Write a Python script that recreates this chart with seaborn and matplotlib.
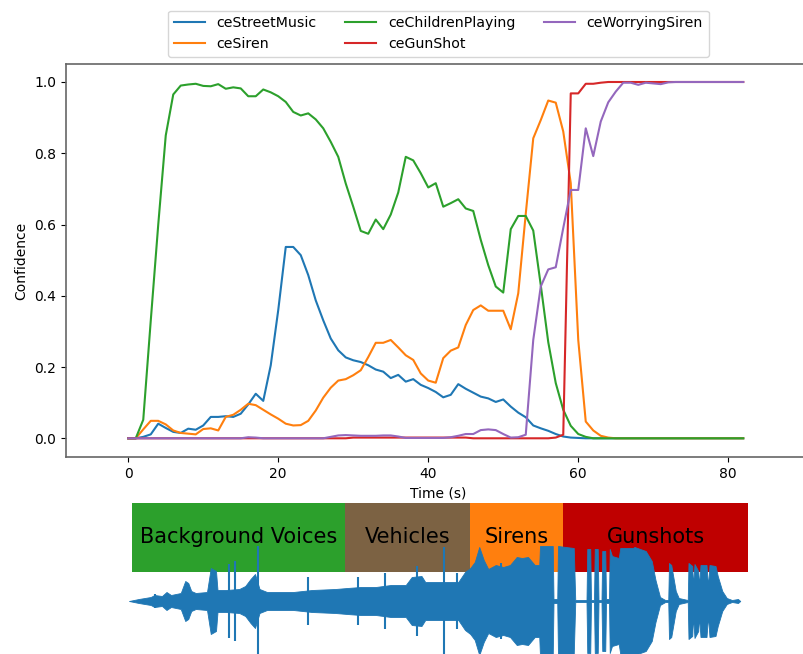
import numpy as np
import pandas as pd
import matplotlib
matplotlib.use('Agg')
import matplotlib.pyplot as plt
import seaborn as sns

# confidence per class, one value per second (0..82 s)
time_s = list(range(83))

street_music = [0, 0, 0.004, 0.011, 0.041, 0.029, 0.018, 0.015, 0.027, 0.024,
                0.036, 0.06, 0.06, 0.062, 0.06, 0.069, 0.095, 0.125, 0.105, 0.205,
                0.36, 0.537, 0.537, 0.514, 0.458, 0.387, 0.331, 0.28, 0.247, 0.227,
                0.219, 0.214, 0.205, 0.193, 0.187, 0.169, 0.178, 0.159, 0.166, 0.15,
                0.141, 0.13, 0.115, 0.122, 0.152, 0.139, 0.128, 0.117, 0.112, 0.102,
                0.109, 0.089, 0.072, 0.059, 0.036, 0.028, 0.021, 0.012, 0.005, 0.002,
                0.001] + [0] * 22

siren = [0, 0, 0.025, 0.049, 0.049, 0.039, 0.022, 0.015, 0.013, 0.011,
         0.026, 0.028, 0.022, 0.06, 0.066, 0.08, 0.097, 0.093, 0.08, 0.067,
         0.055, 0.041, 0.036, 0.037, 0.049, 0.078, 0.114, 0.142, 0.162, 0.166,
         0.177, 0.191, 0.228, 0.268, 0.268, 0.276, 0.255, 0.233, 0.22, 0.182,
         0.162, 0.156, 0.225, 0.246, 0.255, 0.318, 0.36, 0.373, 0.358, 0.358,
         0.358, 0.306, 0.407, 0.63, 0.842, 0.893, 0.948, 0.942, 0.861, 0.716,
         0.276, 0.047, 0.022, 0.007, 0.002] + [0] * 18

children_playing = [0, 0, 0.052, 0.33, 0.6, 0.85, 0.965, 0.99, 0.993, 0.995,
                    0.989, 0.988, 0.994, 0.981, 0.985, 0.982, 0.96, 0.96, 0.979, 0.971,
                    0.96, 0.944, 0.916, 0.906, 0.912, 0.895, 0.87, 0.832, 0.79, 0.715,
                    0.65, 0.582, 0.574, 0.614, 0.587, 0.628, 0.69, 0.79, 0.78, 0.744,
                    0.704, 0.716, 0.65, 0.66, 0.671, 0.645, 0.638, 0.557, 0.486, 0.426,
                    0.409, 0.587, 0.624, 0.624, 0.583, 0.43, 0.27, 0.155, 0.08, 0.035,
                    0.012, 0.004] + [0] * 21

gun_shot = [0] * 30 + [0.002] * 16 + [0] * 11 + [0.002, 0.01, 0.968, 0.968, 0.995,
                                                  0.995, 0.998] + [1.0] * 19

worrying_siren = [0] * 16 + [0.003, 0.002] + [0] * 9 + [0.004, 0.008, 0.009,
                  0.008, 0.007, 0.007, 0.007, 0.008, 0.008, 0.005, 0.001,
                  0.001, 0.001, 0.001, 0.001, 0.001, 0.003, 0.007, 0.012, 0.012, 0.023,
                  0.025, 0.023, 0.012, 0.002, 0.003, 0.01, 0.276, 0.426, 0.474, 0.48,
                  0.59, 0.697, 0.697, 0.87, 0.792, 0.889, 0.943, 0.973, 0.998, 0.998,
                  0.992, 0.998, 0.996, 0.994, 0.999] + [1.0] * 10

class_names = ['ceStreetMusic', 'ceSiren', 'ceChildrenPlaying', 'ceGunShot', 'ceWorryingSiren']

# annotated segments of the recording (seconds)
seg_labels = ['Background Voices', 'Vehicles', 'Sirens', 'Gunshots']
seg_start = [0.5, 28.9, 45.6, 58.0]
seg_end = [28.9, 45.6, 58.0, 82.7]
seg_colors = ['#2ca02c', '#7c6243', '#ff7f0e', '#bf0000']

# waveform envelope (time s, amplitude) and isolated spikes
wave_t = [0.1, 1.4, 3.0, 3.5, 4.5, 5.1, 5.7, 7.0, 7.6, 8.0, 8.4, 9.0, 10.5, 11.0, 11.7,
          11.9, 13.0, 14.8, 15.6, 16.3, 16.9, 17.5, 18.5, 22.0, 24.5, 27.6, 29.2, 31.0,
          33.0, 35.0, 37.0, 37.8, 39.1, 39.6, 42.0, 44.0, 44.9, 45.6, 46.2, 46.8, 47.4,
          48.0, 49.0, 50.0, 50.9, 51.8, 52.5, 53.3, 54.2, 54.8, 54.9, 56.6, 56.7, 57.2,
          57.3, 59.4, 59.6, 61.1, 61.2, 61.6, 61.7, 62.1, 62.2, 62.6, 62.7, 63.1, 63.2,
          63.6, 63.7, 64.1, 64.2, 64.5, 65.4, 65.6, 67.3, 67.5, 69.0, 69.8, 70.3, 70.9,
          71.6, 72.0, 72.1, 72.4, 73.0, 73.4, 74.6, 74.7, 75.2, 75.3, 75.5, 76.0, 76.1,
          76.3, 77.1, 77.3, 77.5, 78.3, 78.6, 79.2, 79.8, 80.5, 81.3, 81.6]
wave_amp = [0.0, 0.02, 0.04, 0.06, 0.05, 0.09, 0.06, 0.08, 0.2, 0.18, 0.1, 0.08, 0.09, 0.33,
            0.3, 0.11, 0.11, 0.12, 0.15, 0.22, 0.27, 0.12, 0.09, 0.09, 0.11, 0.12, 0.13,
            0.14, 0.14, 0.16, 0.16, 0.24, 0.25, 0.19, 0.19, 0.19, 0.29, 0.33, 0.39, 0.54,
            0.41, 0.32, 0.36, 0.34, 0.36, 0.44, 0.43, 0.44, 0.36, 0.36, 0.55, 0.55, 0.02,
            0.02, 0.55, 0.53, 0.01, 0.01, 0.52, 0.52, 0.01, 0.01, 0.52, 0.52, 0.01, 0.01,
            0.5, 0.5, 0.02, 0.02, 0.52, 0.45, 0.43, 0.53, 0.53, 0.54, 0.5, 0.4, 0.21, 0.04,
            0.01, 0.01, 0.38, 0.36, 0.1, 0.03, 0.01, 0.38, 0.35, 0.15, 0.37, 0.3, 0.15,
            0.36, 0.36, 0.15, 0.36, 0.35, 0.25, 0.1, 0.03, 0.01, 0.02, 0.0]
spike_t = [3.6, 13.5, 14.3, 17.3, 24.0, 30.7, 34.3, 38.5, 42.1, 43.8, 49.7]
spike_amp = [0.07, 0.37, 0.4, 0.55, 0.24, 0.24, 0.28, 0.35, 0.54, 0.28, 0.38]

df = pd.DataFrame({'Time (s)': time_s * 5,
                   'Confidence': street_music + siren + children_playing + gun_shot + worrying_siren,
                   'class': [c for c in class_names for _ in time_s]})

fig = plt.figure(figsize=(8.04, 6.54), dpi=100)
W, H = 804, 654
xlim = (-8.3, 91.0)
ax_left, ax_width = 66 / W, (xlim[1] - xlim[0]) * 7.5 / W

ax = fig.add_axes([ax_left, 197 / H, ax_width, 393 / H])
sns.lineplot(data=df, x='Time (s)', y='Confidence', hue='class', hue_order=class_names,
             palette=sns.color_palette('tab10', 5), ax=ax, linewidth=1.5)
ax.set_xlim(*xlim)
ax.set_ylim(-0.0525, 1.0505)
ax.set_xticks([0, 20, 40, 60, 80])
ax.set_yticks([0, 0.2, 0.4, 0.6, 0.8, 1.0])
for s in ax.spines.values():
    s.set_color('0.4')
    s.set_linewidth(1.2)
ax.legend(loc='lower center', bbox_to_anchor=(0.5, 1.0), ncol=3, frameon=True,
          fontsize=10.2, handlelength=2.2, columnspacing=2.05)

# segment bar + waveform underneath
ax_w = fig.add_axes([ax_left, 0, ax_width, 151 / H])
ax_w.set_xlim(*xlim)
ax_w.set_ylim(-0.53, 0.98)
ax_w.axis('off')
widths = [e - s for s, e in zip(seg_start, seg_end)]
ax_w.barh(0.635, widths, left=seg_start, height=0.69, color=seg_colors, zorder=1)
for lab, s, e in zip(seg_labels, seg_start, seg_end):
    ax_w.text((s + e) / 2, 0.64, lab, ha='center', va='center', fontsize=15, zorder=2)
wt = np.array(wave_t)
wa = np.array(wave_amp)
ax_w.fill_between(wt, -wa, wa, color='#1f77b4', lw=0.6, edgecolor='#1f77b4', zorder=3)
ax_w.vlines(spike_t, -np.array(spike_amp), spike_amp, color='#1f77b4', lw=1.5, zorder=3)

fig.savefig('out.png', dpi=100)
